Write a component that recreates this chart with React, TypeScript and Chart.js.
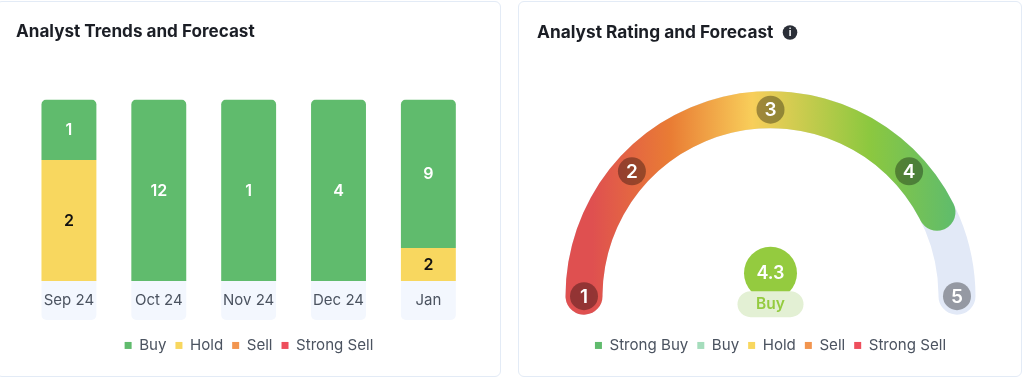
import React, { useEffect, useRef } from "react";
import { Chart, registerables } from "chart.js";

Chart.register(...registerables);

const months = ["Sep 24", "Oct 24", "Nov 24", "Dec 24", "Jan"];
const buyCounts = [1, 12, 1, 4, 9];
const holdCounts = [2, 0, 0, 0, 2];
const sellCounts = [0, 0, 0, 0, 0];
const strongSellCounts = [0, 0, 0, 0, 0];

const ratingScale = [1, 2, 3, 4, 5];
const ratingValue = 4.3;
const ratingLabel = "Buy";
const ratingLegend = ["Strong Buy", "Buy", "Hold", "Sell", "Strong Sell"];

const FONT = "Inter, sans-serif";
const GREEN = "#60BB6D";
const YELLOW = "#F8D75F";
const ORANGE = "#F2954F";
const RED = "#EE4E5C";
const LEGEND_TEXT = "#4B5360";
const TITLE_TEXT = "#1B1E25";

const totals = months.map((_, i) => buyCounts[i] + holdCounts[i] + sellCounts[i] + strongSellCounts[i]);
const share = (counts: number[]) => counts.map((c, i) => c / totals[i]);

const legendOptions = (extra: object = {}) => ({
  position: "bottom" as const,
  onClick: () => {},
  labels: {
    boxWidth: 7,
    boxHeight: 7,
    padding: 9,
    color: LEGEND_TEXT,
    font: { family: FONT, size: 15.1, weight: 400 },
    ...extra,
  },
});

const titleOptions = (text: string, size: number, gap: number) => ({
  display: true,
  text,
  align: "start" as const,
  color: TITLE_TEXT,
  font: { family: FONT, size, weight: 650, lineHeight: 1.2 },
  padding: { top: 22, bottom: gap },
});

const barCellsPlugin = {
  id: "barCells",
  beforeDraw(chart: any) {
    const { ctx, chartArea, scales } = chart;
    const bar = chart.getDatasetMeta(0).data[0];
    ctx.save();
    ctx.fillStyle = "#F3F7FE";
    months.forEach((_, i) => {
      const x = scales.x.getPixelForValue(i);
      ctx.beginPath();
      ctx.roundRect(x - bar.width / 2, chartArea.bottom, bar.width, 39, [0, 0, 5, 5]);
      ctx.fill();
    });
    ctx.restore();
  },
};

const barLabelsPlugin = {
  id: "barLabels",
  afterDatasetsDraw(chart: any) {
    const { ctx } = chart;
    ctx.save();
    ctx.textAlign = "center";
    ctx.textBaseline = "middle";
    ctx.font = `600 16px ${FONT}`;
    chart.data.datasets.forEach((ds: any, d: number) => {
      chart.getDatasetMeta(d).data.forEach((el: any, i: number) => {
        const count = ds.counts[i];
        if (!count) return;
        ctx.fillStyle = ds.labelColor;
        ctx.fillText(String(count), el.x, (el.y + el.base) / 2 + 0.5);
      });
    });
    ctx.restore();
  },
};

const gaugeTicksAngles = [-90, -48, 0, 48, 90];

const gaugeMarksPlugin = {
  id: "gaugeMarks",
  afterDatasetsDraw(chart: any) {
    const { ctx } = chart;
    const arc = chart.getDatasetMeta(0).data[0];
    const r = (arc.innerRadius + arc.outerRadius) / 2;
    ctx.save();
    ctx.textAlign = "center";
    ctx.textBaseline = "middle";
    ratingScale.forEach((v, i) => {
      const a = (gaugeTicksAngles[i] * Math.PI) / 180;
      const x = arc.x + r * Math.sin(a);
      const y = arc.y - r * Math.cos(a);
      ctx.fillStyle = "rgba(0,0,0,0.34)";
      ctx.beginPath();
      ctx.arc(x, y, 14, 0, Math.PI * 2);
      ctx.fill();
      ctx.fillStyle = "#fff";
      ctx.font = `600 19px ${FONT}`;
      ctx.fillText(String(v), x, y + 1);
    });
    // rating badge
    ctx.fillStyle = "#94CB3F";
    ctx.beginPath();
    ctx.arc(arc.x, arc.y - 23, 26.5, 0, Math.PI * 2);
    ctx.fill();
    ctx.fillStyle = "#fff";
    ctx.font = `600 18px ${FONT}`;
    ctx.fillText(String(ratingValue), arc.x, arc.y - 23);
    ctx.fillStyle = "#E3F0D4";
    ctx.beginPath();
    ctx.roundRect(arc.x - 33, arc.y - 5, 66, 26, 13);
    ctx.fill();
    ctx.fillStyle = "#94CB3F";
    ctx.font = `600 15.5px ${FONT}`;
    ctx.fillText(ratingLabel, arc.x, arc.y + 8);
    // info icon next to the title
    ctx.fillStyle = "#2A2E37";
    ctx.beginPath();
    ctx.arc(271, 32.5, 7.3, 0, Math.PI * 2);
    ctx.fill();
    ctx.fillStyle = "#fff";
    ctx.font = `700 10px ${FONT}`;
    ctx.fillText("i", 271, 33);
    ctx.restore();
  },
};

const ROTATION = -95.7;
const SWEEP = 191.4;

const gaugeFill = (c: any) => {
  if (c.dataIndex !== 0) return "rgba(0,0,0,0)";
  const g = c.chart.ctx.createLinearGradient(46, 0, 436, 0);
  g.addColorStop(0.07, "#DF5050");
  g.addColorStop(0.27, "#E97C34");
  g.addColorStop(0.48, "#F8CE5A");
  g.addColorStop(0.78, "#8CC83F");
  g.addColorStop(1, "#5FBC6C");
  return g;
};

const gaugeOptions = {
  responsive: false,
  animation: false as const,
  rotation: ROTATION,
  circumference: SWEEP,
  radius: 205,
  cutout: "81.95%",
};

export default function App() {
  const barRef = useRef<HTMLCanvasElement>(null);
  const trackRef = useRef<HTMLCanvasElement>(null);
  const gaugeRef = useRef<HTMLCanvasElement>(null);

  useEffect(() => {
    const hiddenAxis = (position: "left" | "right", width: number) => ({
      position,
      display: true,
      reverse: true,
      min: 0,
      max: 1,
      stacked: position === "left",
      grid: { display: false },
      border: { display: false },
      ticks: { display: false },
      afterFit: (s: any) => {
        s.width = width;
      },
    });

    const barChart = new Chart(barRef.current!, {
      type: "bar",
      data: {
        labels: months,
        datasets: [
          { label: "Buy", data: share(buyCounts), counts: buyCounts, labelColor: "#fff", backgroundColor: GREEN, borderRadius: { topLeft: 5, topRight: 5, bottomLeft: 0, bottomRight: 0 }, borderSkipped: false },
          { label: "Hold", data: share(holdCounts), counts: holdCounts, labelColor: "#111", backgroundColor: YELLOW },
          { label: "Sell", data: share(sellCounts), counts: sellCounts, labelColor: "#111", backgroundColor: ORANGE },
          { label: "Strong Sell", data: share(strongSellCounts), counts: strongSellCounts, labelColor: "#fff", backgroundColor: RED },
        ] as any,
      },
      options: {
        responsive: false,
        animation: false,
        layout: { padding: { left: 16, right: 18, bottom: 15, top: 0 } },
        datasets: { bar: { categoryPercentage: 1, barPercentage: 55 / 90 } },
        plugins: {
          title: titleOptions("Analyst Trends and Forecast", 17.1, 57),
          legend: legendOptions(),
          tooltip: { enabled: false },
        },
        scales: {
          x: {
            stacked: true,
            grid: { display: false },
            border: { display: false },
            ticks: { color: LEGEND_TEXT, padding: 3, font: { family: FONT, size: 15 }, maxRotation: 0 },
            afterFit: (s: any) => {
              s.height = 48;
            },
          },
          y: hiddenAxis("left", 8),
          yEnd: hiddenAxis("right", 8.7),
        },
      } as any,
      plugins: [barCellsPlugin, barLabelsPlugin],
    });

    const legendColors = [GREEN, "#A5DDBC", YELLOW, ORANGE, RED];
    const gaugeChart = new Chart(gaugeRef.current!, {
      type: "doughnut",
      data: {
        labels: ratingLegend,
        datasets: [
          {
            data: [ratingValue, ratingScale[ratingScale.length - 1] - ratingValue],
            backgroundColor: gaugeFill as any,
            borderWidth: 0,
            borderRadius: [18.5, 0],
          },
        ],
      },
      options: {
        ...gaugeOptions,
        layout: { padding: { left: 18, right: 18, bottom: 15, top: 0 } },
        plugins: {
          title: titleOptions("Analyst Rating and Forecast", 17.3, 36),
          legend: legendOptions({
            generateLabels: () =>
              ratingLegend.map((text, i) => ({ text, fillStyle: legendColors[i], lineWidth: 0, strokeStyle: "transparent", fontColor: LEGEND_TEXT })),
          }),
          tooltip: { enabled: false },
        },
      } as any,
      plugins: [gaugeMarksPlugin],
    });

    const area = gaugeChart.chartArea;
    const trackChart = new Chart(trackRef.current!, {
      type: "doughnut",
      data: {
        labels: ["Scale"],
        datasets: [{ data: [ratingScale[ratingScale.length - 1]], backgroundColor: ["#E2E9F7"], borderWidth: 0, borderRadius: 18.5 }],
      },
      options: {
        ...gaugeOptions,
        layout: {
          padding: { left: area.left, top: area.top, right: gaugeChart.width - area.right, bottom: gaugeChart.height - area.bottom },
        },
        plugins: { legend: { display: false }, title: { display: false }, tooltip: { enabled: false } },
      } as any,
    });

    return () => {
      barChart.destroy();
      gaugeChart.destroy();
      trackChart.destroy();
    };
  }, []);

  const card = (left: number, width: number): React.CSSProperties => ({
    position: "absolute",
    left,
    top: 1,
    width,
    height: 376,
    boxSizing: "border-box",
    border: "1.5px solid #E3EBF6",
    borderRadius: 6,
    background: "#fff",
  });
  const canvasStyle = (left: number): React.CSSProperties => ({ position: "absolute", left, top: 0 });

  return (
    <div style={{ position: "absolute", left: 0, top: 0, width: 1024, height: 378, overflow: "hidden", background: "#fff" }}>
      <div style={card(-4, 505)} />
      <div style={card(518, 504)} />
      <canvas ref={barRef} width={500} height={378} style={canvasStyle(0)} />
      <canvas ref={trackRef} width={503} height={378} style={canvasStyle(519)} />
      <canvas ref={gaugeRef} width={503} height={378} style={canvasStyle(519)} />
    </div>
  );
}
